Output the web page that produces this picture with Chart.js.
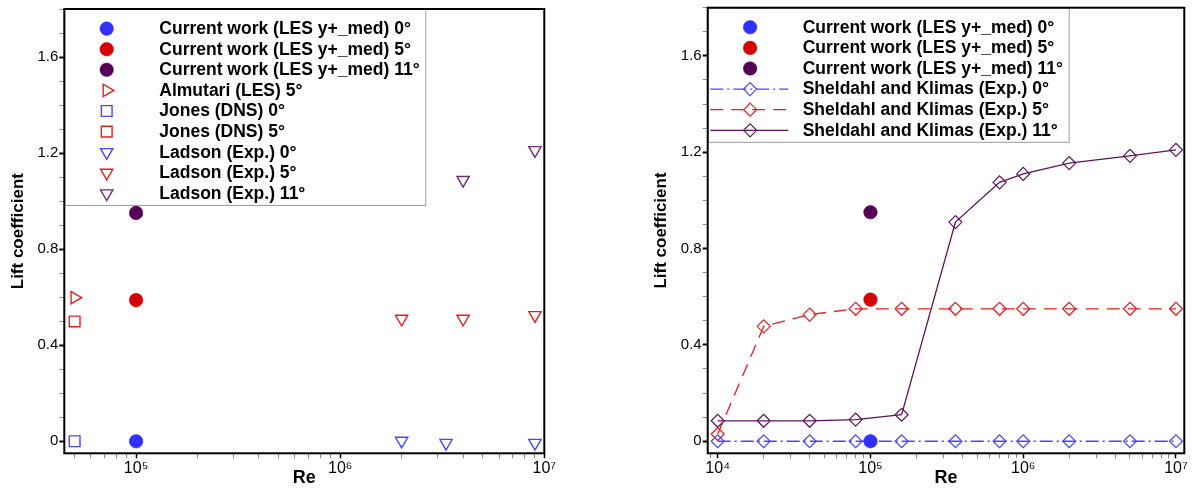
<!DOCTYPE html>
<html><head><meta charset="utf-8">
<script src="https://cdn.jsdelivr.net/npm/chart.js@4/dist/chart.umd.min.js"></script>
<style>
html,body{margin:0;padding:0;background:#fff;}
#wrap{position:relative;width:1192px;height:490px;overflow:hidden;}
canvas{position:absolute;top:0;}
</style></head><body>
<div id="wrap">
<canvas id="c1" width="596" height="490" style="left:0px"></canvas>
<canvas id="c2" width="596" height="490" style="left:596px"></canvas>
</div>
<script>
// ---------- data ----------
const currentRe = [1e5];
const current0 = [0.0];
const current5 = [0.588];
const current11 = [0.951];
const almutariRe = [5e4];
const almutari5 = [0.598];
const jonesRe = [5e4];
const jones0 = [0.0];
const jones5 = [0.499];
const ladson0Re = [2e6, 3.3e6, 9e6];
const ladson0 = [0.002, -0.007, -0.007];
const ladson5Re = [2e6, 4e6, 9e6];
const ladson5 = [0.51, 0.51, 0.525];
const ladson11Re = [4e6, 9e6];
const ladson11 = [1.088, 1.212];
const sheldahlRe = [1e4, 2e4, 4e4, 8e4, 1.6e5, 3.6e5, 7e5, 1e6, 2e6, 5e6, 1e7];
const sheldahl0 = [0, 0, 0, 0, 0, 0, 0, 0, 0, 0, 0];
const sheldahl5 = [0.03, 0.477, 0.526, 0.55, 0.55, 0.55, 0.55, 0.55, 0.55, 0.55, 0.55];
const sheldahl11 = [0.085, 0.085, 0.085, 0.09, 0.11, 0.91, 1.075, 1.11, 1.155, 1.185, 1.21];
const yTickValues = [0, 0.4, 0.8, 1.2, 1.6];
const yTickLabels = ['0', '0.4', '0.8', '1.2', '1.6'];
const decadeValues = [1e4, 1e5, 1e6, 1e7];
const decadeLabels = ['10\u2074', '10\u2075', '10\u2076', '10\u2077'];

// ---------- styling ----------
Chart.defaults.font.family = "'Liberation Sans', Arial, Helvetica, sans-serif";
Chart.defaults.color = '#000';
const BLUE = 'rgb(48,48,255)', RED = 'rgb(214,0,0)', PURPLE = 'rgb(85,0,85)';
const OBLUE = 'rgb(70,70,255)', ORED = 'rgb(228,30,30)', OPURPLE = 'rgb(110,45,110)';
const LPURPLE = 'rgb(92,20,92)';
const NONE = 'rgba(0,0,0,0)';

function pts(xs, ys) { return xs.map((x, i) => ({x: x, y: ys[i]})); }

function filled(label, xs, ys, color) {
  return {label, data: pts(xs, ys), showLine: false, pointStyle: 'circle', pointRadius: 6.8,
    pointBackgroundColor: color, pointBorderColor: color, pointBorderWidth: 0.5, pointRotation: 0};
}
function open(label, xs, ys, color, style, rot, r) {
  return {label, data: pts(xs, ys), showLine: false, pointStyle: style, pointRadius: r,
    pointBackgroundColor: NONE, pointBorderColor: color, pointBorderWidth: 1.4, pointRotation: rot};
}
function lineSet(label, xs, ys, color, dash) {
  return {label, data: pts(xs, ys), showLine: true, borderColor: color, borderWidth: 1.3,
    borderDash: dash, pointStyle: 'rectRot', pointRadius: 6.5, pointBackgroundColor: NONE,
    pointBorderColor: color, pointBorderWidth: 1.2, pointRotation: 0, tension: 0};
}

function drawMarker(ctx, ds, x, y) {
  const r = ds.pointRadius, rad = (ds.pointRotation || 0) * Math.PI / 180;
  ctx.save();
  ctx.beginPath();
  if (ds.pointStyle === 'circle') ctx.arc(x, y, r, 0, 2 * Math.PI);
  else if (ds.pointStyle === 'triangle') {
    let a = rad;
    ctx.moveTo(x + Math.sin(a) * r, y - Math.cos(a) * r);
    a += 2 * Math.PI / 3; ctx.lineTo(x + Math.sin(a) * r, y - Math.cos(a) * r);
    a += 2 * Math.PI / 3; ctx.lineTo(x + Math.sin(a) * r, y - Math.cos(a) * r);
    ctx.closePath();
  } else if (ds.pointStyle === 'rect') {
    const s = Math.SQRT1_2 * r; ctx.rect(x - s, y - s, 2 * s, 2 * s);
  } else {
    ctx.moveTo(x, y - r); ctx.lineTo(x + r, y); ctx.lineTo(x, y + r); ctx.lineTo(x - r, y); ctx.closePath();
  }
  if (ds.pointBackgroundColor && ds.pointBackgroundColor !== NONE) { ctx.fillStyle = ds.pointBackgroundColor; ctx.fill(); }
  ctx.lineWidth = ds.pointBorderWidth; ctx.strokeStyle = ds.pointBorderColor; ctx.stroke();
  ctx.restore();
}

const framePlugin = {
  id: 'frameLegend',
  afterDraw(chart) {
    const {ctx, chartArea: a} = chart;
    const dss = chart.config.data.datasets;
    const boxW = 361, rowH = 20.6, firstY = a.top + 19.6;
    const boxH = 19.6 + (dss.length - 1) * rowH + 11.5;
    ctx.save();
    ctx.fillStyle = '#fff';
    ctx.fillRect(a.left, a.top, boxW, boxH);
    ctx.strokeStyle = '#9a9a9a'; ctx.lineWidth = 1;
    ctx.strokeRect(a.left + 0.5, a.top + 0.5, boxW, boxH);
    ctx.font = "bold 17.5px 'Liberation Sans', Arial, sans-serif";
    ctx.fillStyle = '#000'; ctx.textBaseline = 'middle'; ctx.textAlign = 'left';
    dss.forEach((ds, i) => {
      const y = firstY + i * rowH, mx = a.left + 42.4;
      if (ds.showLine) {
        ctx.save(); ctx.beginPath();
        ctx.setLineDash(ds.borderDash || []);
        ctx.strokeStyle = ds.borderColor; ctx.lineWidth = ds.borderWidth;
        ctx.moveTo(a.left + 2.5, y); ctx.lineTo(a.left + 80.6, y); ctx.stroke();
        ctx.restore();
      }
      drawMarker(ctx, ds, mx, y);
      ctx.fillText(ds.label, a.left + 95, y + 0.5);
    });
    ctx.restore();
    ctx.save();
    ctx.strokeStyle = '#000'; ctx.lineWidth = 2;
    ctx.strokeRect(a.left, a.top, a.right - a.left, a.bottom - a.top);
    ctx.restore();
  }
};

function makeOptions(xmin, xmax, padLeft, padRight) {
  return {
    responsive: false, animation: false, events: [],
    layout: {padding: {left: padLeft, right: padRight, top: 7.7, bottom: 0}},
    plugins: {legend: {display: false}, tooltip: {enabled: false}},
    scales: {
      x: {
        type: 'logarithmic', min: xmin, max: xmax,
        afterBuildTicks(s) {
          const t = [];
          for (let e = 3; e <= 7; e++) for (let m = 1; m <= 9; m++) {
            const v = m * Math.pow(10, e);
            if (v >= xmin * 0.9999 && v <= xmax * 1.0001) t.push({value: v, major: m === 1});
          }
          s.ticks = t;
        },
        ticks: {
          autoSkip: false, maxRotation: 0, minRotation: 0, padding: 1, font: {size: 16}, color: '#000',
          callback(v) { const k = decadeValues.findIndex(d => Math.abs(d - v) / d < 1e-6); return k >= 0 ? decadeLabels[k] : ''; }
        },
        grid: {
          drawOnChartArea: false, drawTicks: true, tickLength: 5,
          tickColor: c => (c.tick && c.tick.major) ? '#000' : '#8a8a8a',
          tickWidth: c => (c.tick && c.tick.major) ? 1.5 : 1
        },
        border: {display: false},
        title: {display: true, text: 'Re', font: {size: 18, weight: 'bold'}, color: '#000', padding: {top: 0, bottom: 1}},
        afterFit(s) { s.height = 36.7; s.paddingLeft = 0; s.paddingRight = 0; }
      },
      y: {
        type: 'linear', min: -0.05, max: 1.8,
        afterBuildTicks(s) { const t = []; for (let i = 0; i <= 18; i++) t.push({value: i / 10, major: i % 4 === 0}); s.ticks = t; },
        ticks: {
          autoSkip: false, padding: 1, font: {size: 15}, color: '#000',
          callback(v) { const k = yTickValues.findIndex(d => Math.abs(d - v) < 1e-6); return k >= 0 ? yTickLabels[k] : ''; }
        },
        grid: {
          drawOnChartArea: false, drawTicks: true, tickLength: 5,
          tickColor: c => (c.tick && c.tick.major) ? '#000' : '#8a8a8a',
          tickWidth: c => (c.tick && c.tick.major) ? 2 : 1
        },
        border: {display: false},
        title: {display: true, text: 'Lift coefficient', font: {size: 17, weight: 'bold'}, color: '#000', padding: {top: 8, bottom: 0}},
        afterFit(s) { s.width = 64.3; s.paddingTop = 0; s.paddingBottom = 0; }
      }
    }
  };
}

new Chart(document.getElementById('c1'), {
  type: 'scatter',
  data: {datasets: [
    filled('Current work (LES y+_med) 0\u00b0', currentRe, current0, BLUE),
    filled('Current work (LES y+_med) 5\u00b0', currentRe, current5, RED),
    filled('Current work (LES y+_med) 11\u00b0', currentRe, current11, PURPLE),
    open('Almutari (LES) 5\u00b0', almutariRe, almutari5, ORED, 'triangle', 90, 7.1),
    open('Jones (DNS) 0\u00b0', jonesRe, jones0, OBLUE, 'rect', 0, 7.6),
    open('Jones (DNS) 5\u00b0', jonesRe, jones5, ORED, 'rect', 0, 7.6),
    open('Ladson (Exp.) 0\u00b0', ladson0Re, ladson0, OBLUE, 'triangle', 180, 7.1),
    open('Ladson (Exp.) 5\u00b0', ladson5Re, ladson5, ORED, 'triangle', 180, 7.1),
    open('Ladson (Exp.) 11\u00b0', ladson11Re, ladson11, OPURPLE, 'triangle', 180, 7.1)
  ]},
  options: makeOptions(4.45e4, 1e7, 0, 51.7),
  plugins: [framePlugin]
});

new Chart(document.getElementById('c2'), {
  type: 'scatter',
  data: {datasets: [
    filled('Current work (LES y+_med) 0\u00b0', currentRe, current0, BLUE),
    filled('Current work (LES y+_med) 5\u00b0', currentRe, current5, RED),
    filled('Current work (LES y+_med) 11\u00b0', currentRe, current11, PURPLE),
    lineSet('Sheldahl and Klimas (Exp.) 0\u00b0', sheldahlRe, sheldahl0, OBLUE, [13, 4, 2, 4]),
    lineSet('Sheldahl and Klimas (Exp.) 5\u00b0', sheldahlRe, sheldahl5, ORED, [13, 8]),
    lineSet('Sheldahl and Klimas (Exp.) 11\u00b0', sheldahlRe, sheldahl11, LPURPLE, [])
  ]},
  options: makeOptions(8.6e3, 1.134e7, 47.4, 5.3),
  plugins: [framePlugin]
});
</script>
</body></html>
